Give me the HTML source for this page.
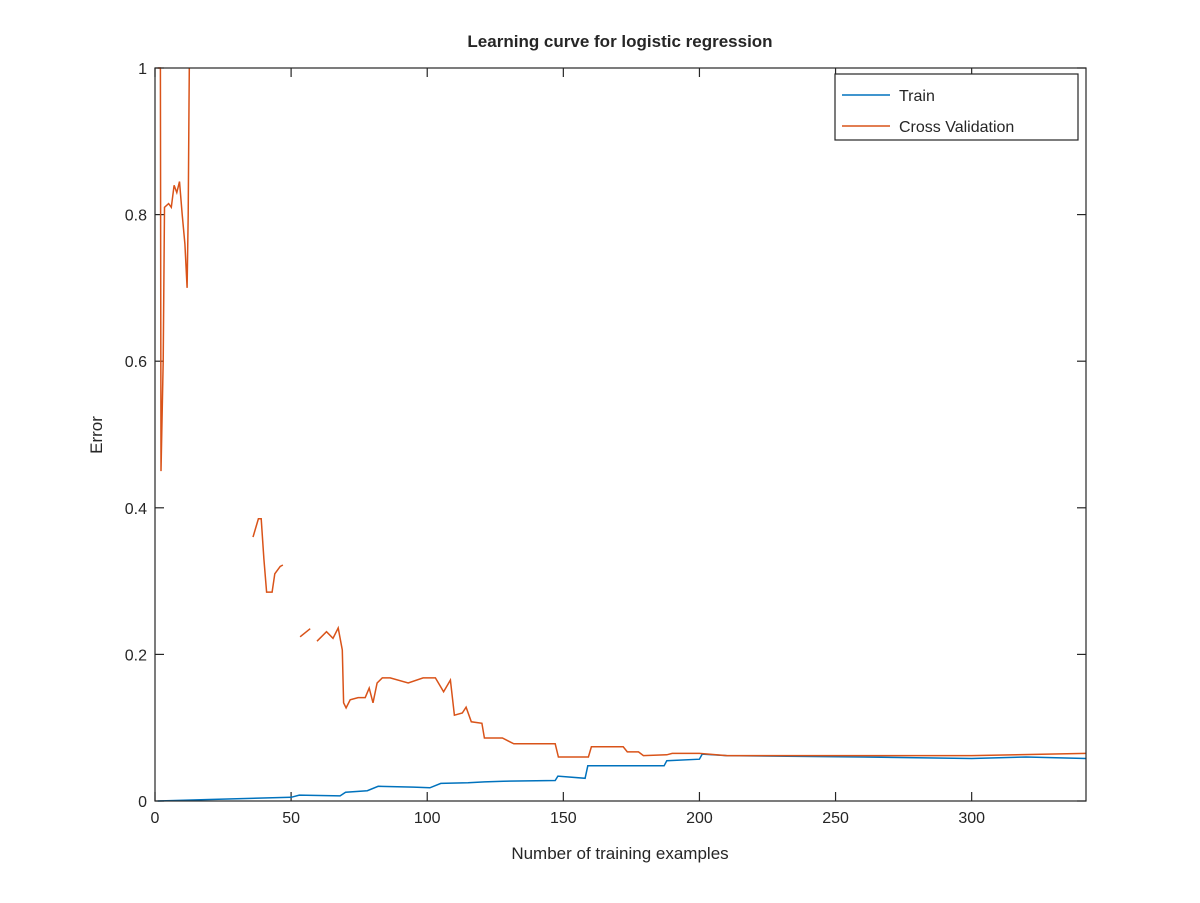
<!DOCTYPE html>
<html><head><meta charset="utf-8"><style>
body{margin:0;background:#fff;font-family:"Liberation Sans",sans-serif}
svg text{font-family:"Liberation Sans",sans-serif;fill:#262626}
</style></head><body>
<svg id="chart" width="1200" height="898" xmlns="http://www.w3.org/2000/svg">
<rect width="1200" height="898" fill="#fff"/>
<text x="620" y="47" font-size="17" font-weight="bold" text-anchor="middle">Learning curve for logistic regression</text>
<g id="axes"></g>
<g id="series"></g>
<rect x="155" y="68" width="931" height="733" fill="none" stroke="#262626" stroke-width="1.2"/>
<g>
<rect x="835" y="74" width="243" height="66" fill="#fff" stroke="#262626" stroke-width="1.2"/>
<line x1="842" y1="95" x2="890" y2="95" stroke="#0072bd" stroke-width="1.5"/>
<text x="899" y="101" font-size="16">Train</text>
<line x1="842" y1="126" x2="890" y2="126" stroke="#d95319" stroke-width="1.5"/>
<text x="899" y="132" font-size="16">Cross Validation</text>
</g>
<text x="620" y="859" font-size="17" text-anchor="middle">Number of training examples</text>
<text transform="translate(102,435) rotate(-90)" font-size="17" text-anchor="middle">Error</text>
</svg>
<script>
const xTicks=[0,50,100,150,200,250,300];
const yTicks=[0,0.2,0.4,0.6,0.8,1];
const yTickLabels=["0","0.2","0.4","0.6","0.8","1"];
const trainX=[1,20,50,53,68,70,78,82,95,101,105,115,121,128,147,148,158,159,175,187,188,200,201,210,260,300,320,342];
const trainY=[0,0.002,0.005,0.008,0.007,0.012,0.014,0.02,0.019,0.018,0.024,0.025,0.026,0.027,0.028,0.034,0.031,0.048,0.048,0.048,0.055,0.057,0.064,0.062,0.060,0.058,0.060,0.058];
const cvX=[1,2,2.2,3,3.5,5,6,7,8,9,10,11,11.8,12.2,12.5,12.6,null,36,38,39,40,41,43,44,46,47,null,53.3,57,null,59.5,63,65.4,67.3,68.8,69.3,70.2,71.7,74.6,77.2,78.7,80.1,81.6,83.5,86.4,93,98.5,103,106,108.5,110,112.9,114.3,116.2,120.1,121,127.6,131.8,147,148.2,159.2,160.3,172,173.5,177.6,179.4,188,190,200,210,250,300,342];
const cvY=[1,1,0.45,0.6,0.81,0.815,0.81,0.84,0.83,0.845,0.8,0.76,0.70,0.8,0.95,1,null,0.36,0.385,0.385,0.33,0.285,0.285,0.31,0.32,0.322,null,0.224,0.235,null,0.218,0.231,0.222,0.236,0.206,0.134,0.127,0.138,0.141,0.141,0.154,0.134,0.161,0.168,0.168,0.161,0.168,0.168,0.149,0.165,0.117,0.12,0.128,0.108,0.106,0.086,0.086,0.078,0.078,0.06,0.06,0.074,0.074,0.067,0.067,0.062,0.063,0.065,0.065,0.062,0.062,0.062,0.065];
const X0=155,X1=1086,Y0=801,Y1=68,XMAX=342;
const sx=v=>X0+v/XMAX*(X1-X0);
const sy=v=>Y0-v*(Y0-Y1);
const NS="http://www.w3.org/2000/svg";
const axes=document.getElementById('axes');
function mk(tag,attrs,parent){const e=document.createElementNS(NS,tag);for(const k in attrs)e.setAttribute(k,attrs[k]);parent.appendChild(e);return e;}
xTicks.forEach(t=>{
  const x=sx(t);
  const l1=mk('line',{x1:x,x2:x,y1:Y0,y2:Y0-9,stroke:'#262626','stroke-width':1.2},axes);
  
  
  const l2=mk('line',{x1:x,x2:x,y1:Y1,y2:Y1+9,stroke:'#262626','stroke-width':1.2},axes);
  
  
  const tx=mk('text',{x:x,y:Y0+22,'font-size':16,'text-anchor':'middle'},axes);
  tx.textContent=String(t);
  
  
});
yTicks.forEach((t,i)=>{
  const y=sy(t);
  const l1=mk('line',{x1:X0,x2:X0+9,y1:y,y2:y,stroke:'#262626','stroke-width':1.2},axes);
  
  
  const l2=mk('line',{x1:X1,x2:X1-9,y1:y,y2:y,stroke:'#262626','stroke-width':1.2},axes);
  
  
  const tx=mk('text',{x:X0-8,y:y+6,'font-size':16,'text-anchor':'end'},axes);
  tx.textContent=yTickLabels[i];
  
  
});
function pathFrom(xs,ys){let d='',pen=false;for(let i=0;i<xs.length;i++){if(xs[i]===null||ys[i]===null){pen=false;continue;}d+=(pen?'L':'M')+sx(xs[i]).toFixed(1)+' '+sy(ys[i]).toFixed(1)+' ';pen=true;}return d;}
const g=document.getElementById('series');
const p1=mk('path',{d:pathFrom(trainX,trainY),fill:'none',stroke:'#0072bd','stroke-width':1.5},g);


const p2=mk('path',{d:pathFrom(cvX,cvY),fill:'none',stroke:'#d95319','stroke-width':1.5},g);


</script>
</body></html>
